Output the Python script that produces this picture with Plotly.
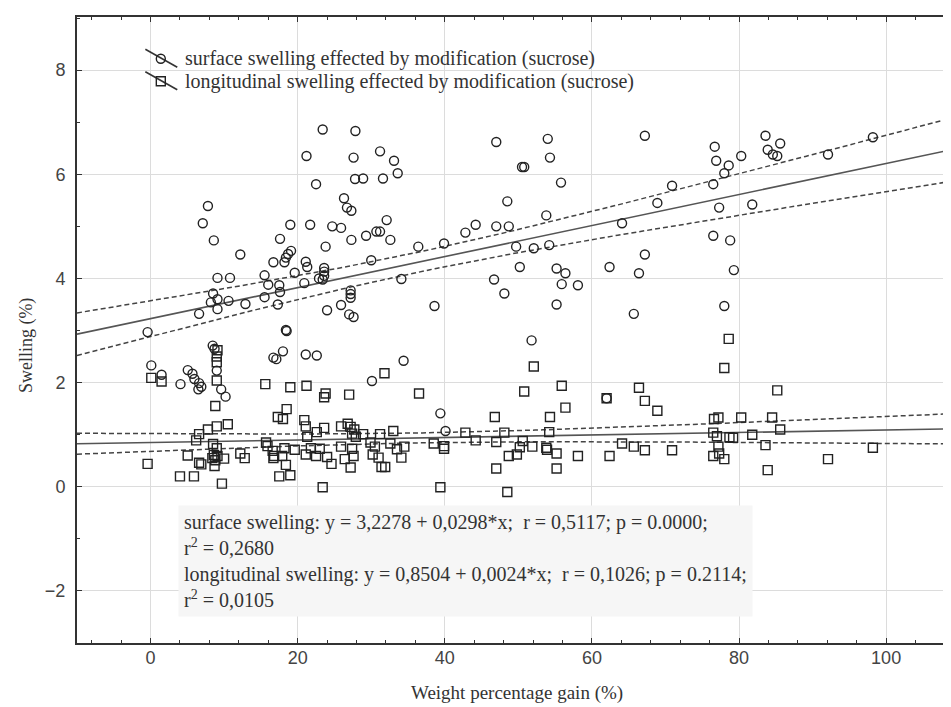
import numpy as np
import plotly.graph_objects as go

# ---------------- data ----------------
surface_x = [23.4, 27.85, 21.2, 27.6, 31.2, 27.8, 28.9, 31.6, 22.5,
             7.8, 7.1, 8.6, 12.2,
             26.3, 26.7, 27.3,
             19.0, 21.7, 24.7, 25.9,
             27.3, 29.3, 30.7, 31.2, 32.1, 32.6,
             17.6, 23.8,
             19.1, 18.7, 18.4, 18.2, 16.7,
             21.1, 21.3,
             23.6, 23.6, 23.6, 22.9, 23.4,
             30.0, 19.6,
             15.5, 16.0, 17.5, 17.6, 15.5, 17.3,
             20.9, 34.1,
             27.2, 27.2, 27.2, 25.9, 24.0, 27.0, 27.6,
             18.4, 18.5,
             9.1, 10.8,
             8.5, 9.1, 8.2, 9.1, 10.6,
             12.9, 6.6,
             -0.4,
             8.45, 8.7, 9.0,
             9.6, 10.2,
             18.0, 16.7, 17.1, 21.1, 22.6,
             0.1, 1.5,
             5.06, 5.7, 5.96, 6.6, 6.9, 6.5, 4.07,
             30.1,
             33.1, 33.6, 34.4, 36.4, 38.6, 39.9, 42.8, 44.2, 47.0, 47.0, 48.7,
             46.7, 48.1, 48.5, 50.5, 50.8, 54.0, 54.3, 55.8, 53.8, 49.7, 52.1,
             54.2, 50.2, 55.2, 56.4, 55.9, 58.1, 55.2, 51.8, 39.4, 40.1, 64.1,
             62.4, 62.0, 67.2, 67.2, 66.4, 65.7, 68.9, 70.9,
             76.7, 76.9, 78.6, 78.0, 76.5, 80.3, 83.6, 83.9, 84.6, 85.2, 85.6,
             92.1, 98.2, 77.3, 81.8, 76.5, 78.8, 79.3, 78.0]
surface_y = [6.86, 6.83, 6.35, 6.32, 6.44, 5.91, 5.92, 5.92, 5.81,
             5.39, 5.06, 4.73, 4.46,
             5.54, 5.36, 5.30,
             5.03, 5.03, 5.00, 4.97,
             4.74, 4.82, 4.90, 4.90, 5.12, 4.74,
             4.76, 4.61,
             4.53, 4.47, 4.40, 4.31, 4.31,
             4.32, 4.22,
             4.20, 4.13, 4.05, 4.00, 3.98,
             4.35, 4.11,
             4.06, 3.88, 3.87, 3.74, 3.64, 3.50,
             3.91, 3.99,
             3.77, 3.70, 3.63, 3.49, 3.39, 3.31, 3.26,
             3.01, 2.99,
             4.01, 4.01,
             3.71, 3.60, 3.54, 3.41, 3.57,
             3.51, 3.32,
             2.97,
             2.71, 2.65, 2.23,
             1.87, 1.73,
             2.60, 2.48, 2.45, 2.54, 2.52,
             2.33, 2.15,
             2.24, 2.17, 2.07, 1.99, 1.92, 1.87, 1.97,
             2.03,
             6.26, 6.02, 2.42, 4.61, 3.47, 4.67, 4.88, 5.03, 6.62, 5.00, 5.00,
             3.98, 3.71, 5.48, 6.14, 6.14, 6.68, 6.32, 5.84, 5.21, 4.61, 4.58,
             4.64, 4.22, 4.19, 4.10, 3.89, 3.87, 3.50, 2.81, 1.41, 1.07, 5.06,
             4.22, 1.70, 6.74, 4.46, 4.10, 3.32, 5.45, 5.78,
             6.53, 6.26, 6.17, 6.02, 5.81, 6.35, 6.74, 6.47, 6.38, 6.35, 6.59,
             6.38, 6.71, 5.36, 5.42, 4.82, 4.73, 4.16, 3.47]

long_x = [-0.4, 0.1, 1.5,
          4.0, 5.9, 5.05, 6.6, 6.9,
          6.2, 6.6, 7.8, 9.0, 10.5,
          8.8,
          9.1, 9.0, 9.0, 9.0,
          8.5, 9.0, 8.6, 9.1, 8.8, 8.4, 10.0, 8.7,
          12.2, 12.8,
          9.7,
          15.6, 19.0, 21.2,
          23.8, 23.6, 27.0,
          18.5, 17.3, 18.0,
          20.9, 21.1,
          22.6, 23.6, 21.3,
          25.9, 26.8, 27.2, 27.4, 27.9, 27.7,
          28.9, 31.2, 33.0,
          29.9, 30.5, 32.6, 34.5,
          15.7, 15.9, 16.6, 16.8, 17.9, 16.7,
          18.4, 17.5, 19.0,
          18.2, 19.6,
          21.1, 21.8, 23.0, 22.5, 24.0, 24.6,
          25.9, 26.4, 27.4, 27.6, 27.2,
          30.2, 31.0, 31.4, 31.9,
          23.4,
          31.8,
          36.5, 33.5, 34.1, 38.5, 39.9, 39.9, 39.4, 42.8, 44.2, 46.8, 47.0,
          47.0, 48.1, 48.7, 49.8, 48.5, 50.2, 50.6, 51.9, 50.8, 52.1, 53.8,
          53.9, 54.2, 54.3, 55.2, 55.2, 55.9, 56.4, 58.1, 62.0, 62.4, 64.1,
          65.7, 66.4, 67.2, 68.9, 67.2, 70.9,
          78.6, 78.0, 85.2, 76.6, 77.2, 80.3, 84.5, 76.5, 77.0, 78.7, 79.2,
          81.8, 85.6, 77.2, 76.5, 77.3, 78.0, 83.6, 83.9, 92.1, 98.2]
long_y = [0.44, 2.09, 2.02,
          0.20, 0.20, 0.60, 0.46, 0.43,
          0.89, 1.01, 1.10, 1.16, 1.20,
          1.55,
          2.62, 2.50, 2.39, 2.04,
          0.82, 0.74, 0.61, 0.59, 0.51, 0.55, 0.54, 0.40,
          0.64, 0.55,
          0.06,
          1.97, 1.91, 1.94,
          1.79, 1.72, 1.77,
          1.49, 1.34, 1.30,
          1.28, 1.16,
          1.05, 1.13, 0.96,
          1.16, 1.21, 1.15, 1.02, 0.96, 1.10,
          1.01, 1.01, 1.07,
          0.85, 0.77, 0.83, 0.77,
          0.85, 0.78, 0.69, 0.59, 0.59, 0.55,
          0.42, 0.20, 0.22,
          0.74, 0.71,
          0.62, 0.74, 0.73, 0.59, 0.57, 0.44,
          0.77, 0.53, 0.73, 0.59, 0.37,
          0.62, 0.56, 0.38, 0.38,
          -0.01,
          2.18,
          1.79, 0.72, 0.56, 0.83, 0.78, 0.73, -0.01, 1.04, 0.89, 1.34, 0.86,
          0.35, 1.04, 0.59, 0.62, -0.10, 0.76, 0.88, 0.77, 1.83, 2.31, 0.75,
          0.71, 1.05, 1.34, 0.64, 0.35, 1.94, 1.52, 0.59, 1.70, 0.59, 0.83,
          0.77, 1.90, 1.65, 1.46, 0.70, 0.70,
          2.84, 2.28, 1.85, 1.30, 1.33, 1.33, 1.33, 1.04, 0.97, 0.95, 0.94,
          1.00, 1.10, 0.77, 0.59, 0.64, 0.53, 0.80, 0.32, 0.53, 0.75]

# regression coefficients as printed on the chart
surface_fit = (3.2278, 0.0298)
long_fit = (0.8504, 0.0024)

x_ticks = [0, 20, 40, 60, 80, 100]
y_ticks = [-2, 0, 2, 4, 6, 8]

legend_names = ["surface swelling effected by modification (sucrose)",
                "longitudinal swelling effected by modification (sucrose)"]
stats_lines = [
    "surface swelling: y = 3,2278 + 0,0298*x;\u00a0\u00a0r = 0,5117; p = 0.0000;",
    "r<sup>2</sup> = 0,2680",
    "longitudinal swelling: y = 0,8504 + 0,0024*x;\u00a0\u00a0r = 0,1026; p = 0.2114;",
    "r<sup>2</sup> = 0,0105",
]
x_title = "Weight percentage gain (%)"
y_title = "Swelling (%)"

X_RANGE = [-10, 109.5]
Y_RANGE = [-3, 9.02]
T95 = 1.976

W, H = 951, 707
ML, MR, MT, MB = 69, 1, 9, 72
PW, PH = W - ML - MR, H - MT - MB

xs = np.linspace(X_RANGE[0], X_RANGE[1] + 2, 120)


def fit_with_band(x, y, coef):
    x = np.asarray(x, float)
    y = np.asarray(y, float)
    a, b = coef
    n = len(x)
    res = y - (a + b * x)
    s = np.sqrt(np.sum(res ** 2) / (n - 2))
    xbar = x.mean()
    sxx = np.sum((x - xbar) ** 2)
    yhat = a + b * xs
    half = T95 * s * np.sqrt(1.0 / n + (xs - xbar) ** 2 / sxx)
    return yhat, yhat - half, yhat + half


def px2x(px):
    return (px - ML) / PW


def py2y(py):
    return (H - MB - py) / PH


SERIF = "Liberation Serif"
SANS = "Liberation Sans"
INK = "#222222"
TXT = "#333333"

fig = go.Figure()

for (xv, yv, coef) in [(surface_x, surface_y, surface_fit), (long_x, long_y, long_fit)]:
    yhat, lo, hi = fit_with_band(xv, yv, coef)
    fig.add_trace(go.Scatter(x=xs, y=yhat, mode="lines", showlegend=False,
                             line=dict(color="#555555", width=1.6), hoverinfo="skip"))
    for band in (lo, hi):
        fig.add_trace(go.Scatter(x=xs, y=band, mode="lines", showlegend=False,
                                 line=dict(color="#444444", width=1.5, dash="5px,3px"),
                                 hoverinfo="skip"))

fig.add_trace(go.Scatter(x=surface_x, y=surface_y, mode="markers", name=legend_names[0],
                         showlegend=False,
                         marker=dict(symbol="circle-open", size=9, color=INK,
                                     line=dict(width=1.4))))
fig.add_trace(go.Scatter(x=long_x, y=long_y, mode="markers", name=legend_names[1],
                         showlegend=False,
                         marker=dict(symbol="square-open", size=9, color=INK,
                                     line=dict(width=1.4))))

axis_common = dict(
    showline=True, linecolor="#333333", linewidth=2, mirror="ticks",
    ticks="inside", ticklen=5, tickwidth=1.2, tickcolor="#333333",
    showgrid=True, gridcolor="#dcdcdc", gridwidth=1, zeroline=False,
    tickfont=dict(family=SANS, size=18, color="#444444"),
)

fig.update_xaxes(range=X_RANGE, tickvals=x_ticks, ticklabelstandoff=-3,
                 minor=dict(dtick=4, tick0=0, ticks="inside", ticklen=3,
                            tickcolor="#333333", showgrid=False),
                 **axis_common)
fig.update_yaxes(range=Y_RANGE, tickvals=y_ticks, ticklabelstandoff=6,
                 minor=dict(dtick=1, tick0=0, ticks="inside", ticklen=3,
                            tickcolor="#333333", showgrid=False),
                 **axis_common)

# statistics box
fig.add_annotation(xref="paper", yref="paper", x=px2x(170), y=py2y(497),
                   xanchor="left", yanchor="top", align="left", showarrow=False,
                   text="<br>".join(stats_lines), bgcolor="#f6f6f6", borderpad=5,
                   font=dict(family=SERIF, size=20, color=TXT))

# axis titles
fig.add_annotation(xref="paper", yref="paper", x=px2x(510), y=py2y(685),
                   xanchor="center", yanchor="middle", showarrow=False, text=x_title,
                   font=dict(family=SERIF, size=19, color=TXT))
fig.add_annotation(xref="paper", yref="paper", x=px2x(18), y=py2y(338),
                   xanchor="center", yanchor="middle", showarrow=False, text=y_title,
                   textangle=-90, font=dict(family=SERIF, size=18, color=TXT))

# custom legend (symbol crossed by a diagonal line, as in the reference)
legend_rows = [(50.7, "circle"), (73.3, "rect")]
shapes = []
for (row_y, kind), name in zip(legend_rows, legend_names):
    cx = 153
    shapes.append(dict(type="line", xref="paper", yref="paper",
                       x0=px2x(cx - 15.5), y0=py2y(row_y - 9.5),
                       x1=px2x(cx + 16.5), y1=py2y(row_y + 8.5),
                       line=dict(color="#333333", width=1.6)))
    r = 4.5
    shapes.append(dict(type=kind, xref="paper", yref="paper",
                       x0=px2x(cx - r), x1=px2x(cx + r),
                       y0=py2y(row_y + r), y1=py2y(row_y - r),
                       line=dict(color=INK, width=1.4), fillcolor="rgba(0,0,0,0)"))
    fig.add_annotation(xref="paper", yref="paper", x=px2x(175), y=py2y(row_y),
                       xanchor="left", yanchor="middle", showarrow=False, text=name,
                       font=dict(family=SERIF, size=20, color=TXT))

fig.update_layout(
    width=W, height=H,
    margin=dict(l=ML, r=MR, t=MT, b=MB),
    paper_bgcolor="white", plot_bgcolor="white",
    showlegend=False,
    shapes=shapes,
)

fig.write_html("out.html")
